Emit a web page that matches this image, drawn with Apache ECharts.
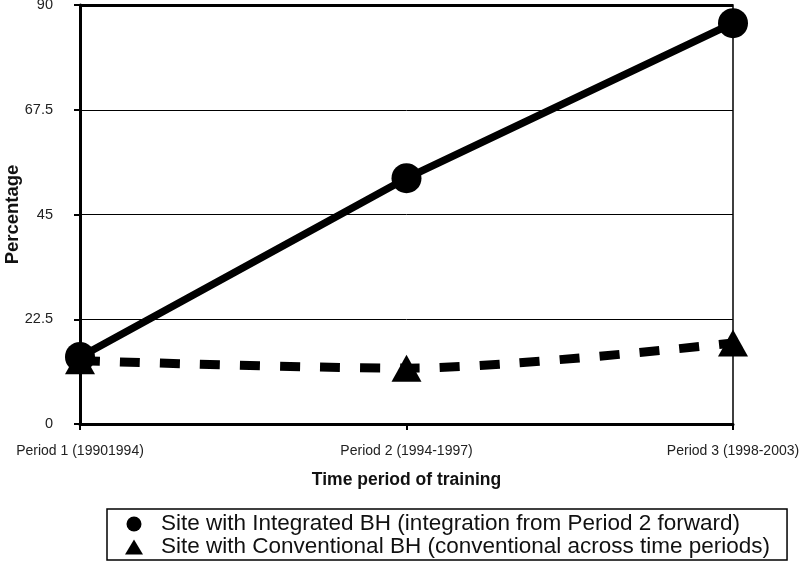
<!DOCTYPE html>
<html><head><meta charset="utf-8">
<script src="https://cdn.jsdelivr.net/npm/echarts@6/dist/echarts.min.js"></script>
<style>html,body{margin:0;padding:0;background:#fff}#c{width:800px;height:562px}</style>
</head><body><div id="c"></div>
<script>
const categories = ['Period 1 (19901994)', 'Period 2 (1994-1997)', 'Period 3 (1998-2003)'];
const integrated = [14.4, 52.8, 86.1];
const conventional = [13.6, 12.0, 17.4];
const yTicks = [0, 22.5, 45, 67.5, 90];
const seriesNames = ['Site with Integrated BH (integration from Period 2 forward)', 'Site with Conventional BH (conventional across time periods)'];

const chart = echarts.init(document.getElementById('c'));
chart.setOption({
  animation: false,
  backgroundColor: '#fff',
  textStyle: {fontFamily: 'Liberation Sans, Arial, sans-serif'},
  grid: {left: 80, right: 67, top: 5, bottom: 138, containLabel: false, outerBoundsMode: 'none',
    show: true, borderColor: '#000', borderWidth: 1.5, backgroundColor: 'transparent'},
  xAxis: {
    type: 'category', data: categories, boundaryGap: false,
    axisLine: {lineStyle: {color: '#000', width: 3}},
    axisTick: {show: true, length: 6, lineStyle: {color: '#000', width: 2}},
    axisLabel: {fontSize: 14, color: '#222', margin: 20},
    name: 'Time period of training', nameLocation: 'middle', nameGap: 47,
    nameTextStyle: {fontSize: 17.5, fontWeight: 'bold', color: '#111'}
  },
  yAxis: {
    type: 'value', min: yTicks[0], max: yTicks[yTicks.length - 1], interval: yTicks[1] - yTicks[0],
    axisLine: {show: true, lineStyle: {color: '#000', width: 3}},
    axisTick: {show: true, length: 6, lineStyle: {color: '#000', width: 2}},
    axisLabel: {fontSize: 14.5, color: '#222', margin: 27},
    splitLine: {show: true, lineStyle: {color: '#000', width: 1}},
    name: 'Percentage', nameLocation: 'middle', nameGap: 58, nameRotate: 90, nameMoveOverlap: false,
    nameTextStyle: {fontSize: 18.5, fontWeight: 'bold', color: '#111'}
  },
  legend: {
    orient: 'vertical', left: 107, top: 509,
    padding: [3.5, 17, 1.5, 18],
    borderColor: '#000', borderWidth: 1.5,
    itemGap: 0, itemWidth: 18, itemHeight: 15,
    textStyle: {fontSize: 22.5, lineHeight: 23, color: '#111', padding: [0, 0, 0, 13]},
    data: [
      {name: seriesNames[0], icon: 'circle'},
      {name: seriesNames[1], icon: 'triangle'}
    ]
  },
  series: [
    {
      name: seriesNames[0], type: 'line', data: integrated,
      symbol: 'circle', symbolSize: 30,
      lineStyle: {color: '#000', width: 7.5},
      itemStyle: {color: '#000'},
      z: 3,
      markLine: {silent: true, symbol: 'none', label: {show: false},
        lineStyle: {color: '#000', width: 3, type: 'solid'},
        data: [{yAxis: yTicks[yTicks.length - 1]}]}
    },
    {
      name: seriesNames[1], type: 'line', data: conventional,
      symbol: 'triangle', symbolSize: [30, 27], smooth: 0.3,
      lineStyle: {color: '#000', width: 9, type: [20, 20]},
      itemStyle: {color: '#000'},
      z: 2
    }
  ]
});
</script></body></html>
